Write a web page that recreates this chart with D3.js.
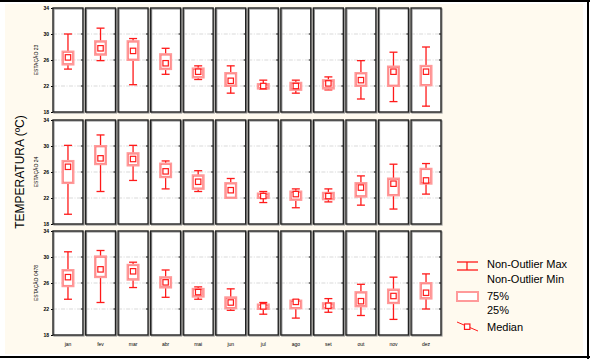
<!DOCTYPE html>
<html>
<head>
<meta charset="utf-8">
<script src="https://cdn.jsdelivr.net/npm/d3@7"></script>
<style>
  body { margin: 0; background: #fff; }
  svg { display: block; font-family: "Liberation Sans", Arial, sans-serif; }
</style>
</head>
<body>
<svg width="590" height="359"></svg>
<script>
// months and stations
let months = ['jan', 'fev', 'mar', 'abr', 'mai', 'jun', 'jul', 'ago', 'set', 'out', 'nov', 'dez']
let stations = ['ESTAÇÃO 23', 'ESTAÇÃO 24', 'ESTAÇÃO 0478']
let yTicks = [18, 22, 26, 30, 34]

// estação 23
let st23Max = [30.0, 30.9, 29.3, 27.8, 25.1, 25.1, 22.9, 22.9, 23.4, 25.9, 27.2, 28.0]
let st23Q3  = [27.3, 28.9, 28.9, 26.9, 24.7, 24.0, 22.3, 22.5, 22.9, 24.0, 25.0, 25.1]
let st23Med = [26.4, 27.8, 27.4, 25.5, 24.2, 22.8, 22.0, 22.0, 22.4, 22.9, 24.2, 24.2]
let st23Q1  = [25.3, 26.8, 26.0, 24.6, 23.3, 22.0, 21.6, 21.4, 21.6, 22.0, 22.0, 22.1]
let st23Min = [24.6, 25.9, 22.2, 23.8, 23.0, 20.9, 21.5, 20.9, 21.4, 20.0, 19.6, 18.9]

// estação 24
let st24Max = [30.1, 31.7, 30.1, 27.7, 26.2, 25.0, 23.0, 23.4, 23.4, 25.4, 27.2, 27.3]
let st24Q3  = [27.7, 30.0, 28.9, 27.3, 25.5, 24.3, 22.7, 23.0, 22.8, 24.3, 25.0, 26.5]
let st24Med = [26.8, 28.1, 28.0, 26.1, 24.5, 23.2, 22.3, 22.6, 22.3, 23.6, 24.2, 24.7]
let st24Q1  = [24.3, 27.2, 27.0, 25.2, 23.4, 22.0, 22.0, 21.7, 21.8, 22.2, 22.4, 24.2]
let st24Min = [19.5, 23.0, 24.7, 23.4, 23.0, 22.0, 21.3, 20.5, 21.4, 20.9, 20.3, 22.6]

// estação 0478
let st0478Max = [30.8, 31.0, 29.2, 28.0, 25.4, 25.1, 23.0, 23.4, 23.6, 25.8, 26.9, 27.4]
let st0478Q3  = [28.0, 30.1, 28.8, 26.9, 25.1, 23.8, 22.7, 23.3, 22.9, 24.6, 25.0, 26.0]
let st0478Med = [26.9, 28.1, 27.8, 26.1, 24.6, 23.0, 22.4, 23.1, 22.5, 23.2, 24.0, 24.5]
let st0478Q1  = [25.5, 26.9, 26.5, 25.3, 23.9, 22.1, 22.0, 22.1, 22.1, 22.4, 22.9, 23.6]
let st0478Min = [23.5, 23.0, 25.3, 23.8, 23.5, 21.8, 21.2, 20.6, 21.5, 21.0, 20.4, 22.0]

let series = [
  [st23Min, st23Q1, st23Med, st23Q3, st23Max],
  [st24Min, st24Q1, st24Med, st24Q3, st24Max],
  [st0478Min, st0478Q1, st0478Med, st0478Q3, st0478Max]
]

let svg = d3.select('svg')
let red = '#ff1a1a'
let pink = '#ff9a9a'

// background and frame
svg.append('rect').attr('x', 5).attr('y', 4).attr('width', 578).attr('height', 350).attr('fill', '#fffaef')
svg.append('line').attr('x1', 0).attr('x2', 590).attr('y1', 1).attr('y2', 1).attr('stroke', '#000').attr('stroke-width', 2)
svg.append('line').attr('x1', 0).attr('x2', 590).attr('y1', 357).attr('y2', 357).attr('stroke', '#000').attr('stroke-width', 2)
svg.append('line').attr('x1', 588).attr('x2', 588).attr('y1', 0).attr('y2', 359).attr('stroke', '#000').attr('stroke-width', 2)

let xScale = d3.scaleBand().domain(months).range([53, 441]).paddingInner(0.08)
let rowTops = [8, 120, 231]
let rowH = 104

series.forEach((st, r) => {
  let yScale = d3.scaleLinear().domain([18, 34]).range([rowTops[r] + rowH, rowTops[r]])
  let g = svg.append('g')

  // station label
  g.append('text')
    .attr('transform', `translate(38,${rowTops[r] + rowH / 2}) rotate(-90)`)
    .attr('text-anchor', 'middle')
    .style('font-size', '5px')
    .text(stations[r])

  // left axis
  let yAxis = d3.axisLeft(yScale).tickValues(yTicks).tickSize(2).tickPadding(2)
  let ax = g.append('g').attr('transform', `translate(${xScale('jan')},0)`).call(yAxis)
  ax.select('.domain').remove()
  ax.selectAll('text').style('font-size', '5px').style('font-weight', 'bold')

  months.forEach((m, i) => {
    let x0 = xScale(m)
    let bw = xScale.bandwidth()
    let cx = x0 + bw / 2
    let p = g.append('g')

    p.append('rect')
      .attr('x', x0).attr('y', rowTops[r]).attr('width', bw).attr('height', rowH)
      .attr('fill', '#fff')

    // grid
    p.selectAll('.grid').data([22, 26, 30]).enter().append('line')
      .attr('x1', x0).attr('x2', x0 + bw)
      .attr('y1', (d) => yScale(d)).attr('y2', (d) => yScale(d))
      .attr('stroke', '#cfcfcf').attr('stroke-width', 0.8).attr('stroke-dasharray', '4,1.5,1,1.5')

    // right ticks
    p.selectAll('.rt').data([22, 26, 30]).enter().append('line')
      .attr('x1', x0 + bw - 2).attr('x2', x0 + bw)
      .attr('y1', (d) => yScale(d)).attr('y2', (d) => yScale(d))
      .attr('stroke', '#000').attr('stroke-width', 1)

    p.append('rect')
      .attr('x', x0 + 1).attr('y', rowTops[r] + 1).attr('width', bw).attr('height', rowH)
      .attr('fill', 'none').attr('stroke', '#999').attr('stroke-width', 1.2)
    p.append('rect')
      .attr('x', x0).attr('y', rowTops[r]).attr('width', bw).attr('height', rowH)
      .attr('fill', 'none').attr('stroke', '#222').attr('stroke-width', 1.4)

    let mn = st[0][i], q1 = st[1][i], md = st[2][i], q3 = st[3][i], mx = st[4][i]

    // whisker
    p.append('line').attr('x1', cx).attr('x2', cx).attr('y1', yScale(mx)).attr('y2', yScale(mn))
      .attr('stroke', red).attr('stroke-width', 1.3)
    p.selectAll('.cap').data([mn, mx]).enter().append('line')
      .attr('x1', cx - 4).attr('x2', cx + 4)
      .attr('y1', (d) => yScale(d)).attr('y2', (d) => yScale(d))
      .attr('stroke', red).attr('stroke-width', 1.3)

    // box
    p.append('rect')
      .attr('x', cx - 5.5).attr('y', yScale(q3)).attr('width', 11).attr('height', yScale(q1) - yScale(q3))
      .attr('fill', '#fff').attr('stroke', pink).attr('stroke-width', 2)
    p.append('rect')
      .attr('x', cx - 4.5).attr('y', yScale(q3) + 1).attr('width', 9).attr('height', Math.max(0, yScale(q1) - yScale(q3) - 2))
      .attr('fill', 'none').attr('stroke', '#ff6b6b').attr('stroke-width', 0.6)

    // median
    p.append('rect')
      .attr('x', cx - 2.7).attr('y', yScale(md) - 2.7).attr('width', 5.4).attr('height', 5.4)
      .attr('fill', '#fff').attr('stroke', red).attr('stroke-width', 1.2)

    if (r === 2) {
      svg.append('text')
        .attr('x', cx).attr('y', 346)
        .attr('text-anchor', 'middle')
        .style('font-size', '5px')
        .text(m)
    }
  })
})

// axis title
svg.append('text')
  .attr('transform', 'translate(24,172) rotate(-90)')
  .attr('text-anchor', 'middle')
  .style('font-size', '12px')
  .text('TEMPERATURA (ºC)')

// legend
let lg = svg.append('g')
lg.append('line').attr('x1', 457).attr('x2', 478).attr('y1', 262).attr('y2', 262).attr('stroke', red).attr('stroke-width', 1.3)
lg.append('line').attr('x1', 457).attr('x2', 478).attr('y1', 270).attr('y2', 270).attr('stroke', red).attr('stroke-width', 1.3)
lg.append('line').attr('x1', 467).attr('x2', 467).attr('y1', 262).attr('y2', 270).attr('stroke', red).attr('stroke-width', 1.3)
lg.append('rect').attr('x', 457).attr('y', 292).attr('width', 21).attr('height', 9)
  .attr('fill', '#fff').attr('stroke', pink).attr('stroke-width', 2)
lg.append('line').attr('x1', 457).attr('x2', 478).attr('y1', 322).attr('y2', 331).attr('stroke', red).attr('stroke-width', 1)
lg.append('rect').attr('x', 464.5).attr('y', 324).attr('width', 5.4).attr('height', 5.4)
  .attr('fill', '#fff').attr('stroke', red).attr('stroke-width', 1.2)

let legendText = [['Non-Outlier Max', 268], ['Non-Outlier Min', 283], ['75%', 300], ['25%', 314], ['Median', 331]]
lg.selectAll('.lt').data(legendText).enter().append('text')
  .attr('x', 487).attr('y', (d) => d[1])
  .style('font-size', '11px')
  .text((d) => d[0])
</script>
</body>
</html>
